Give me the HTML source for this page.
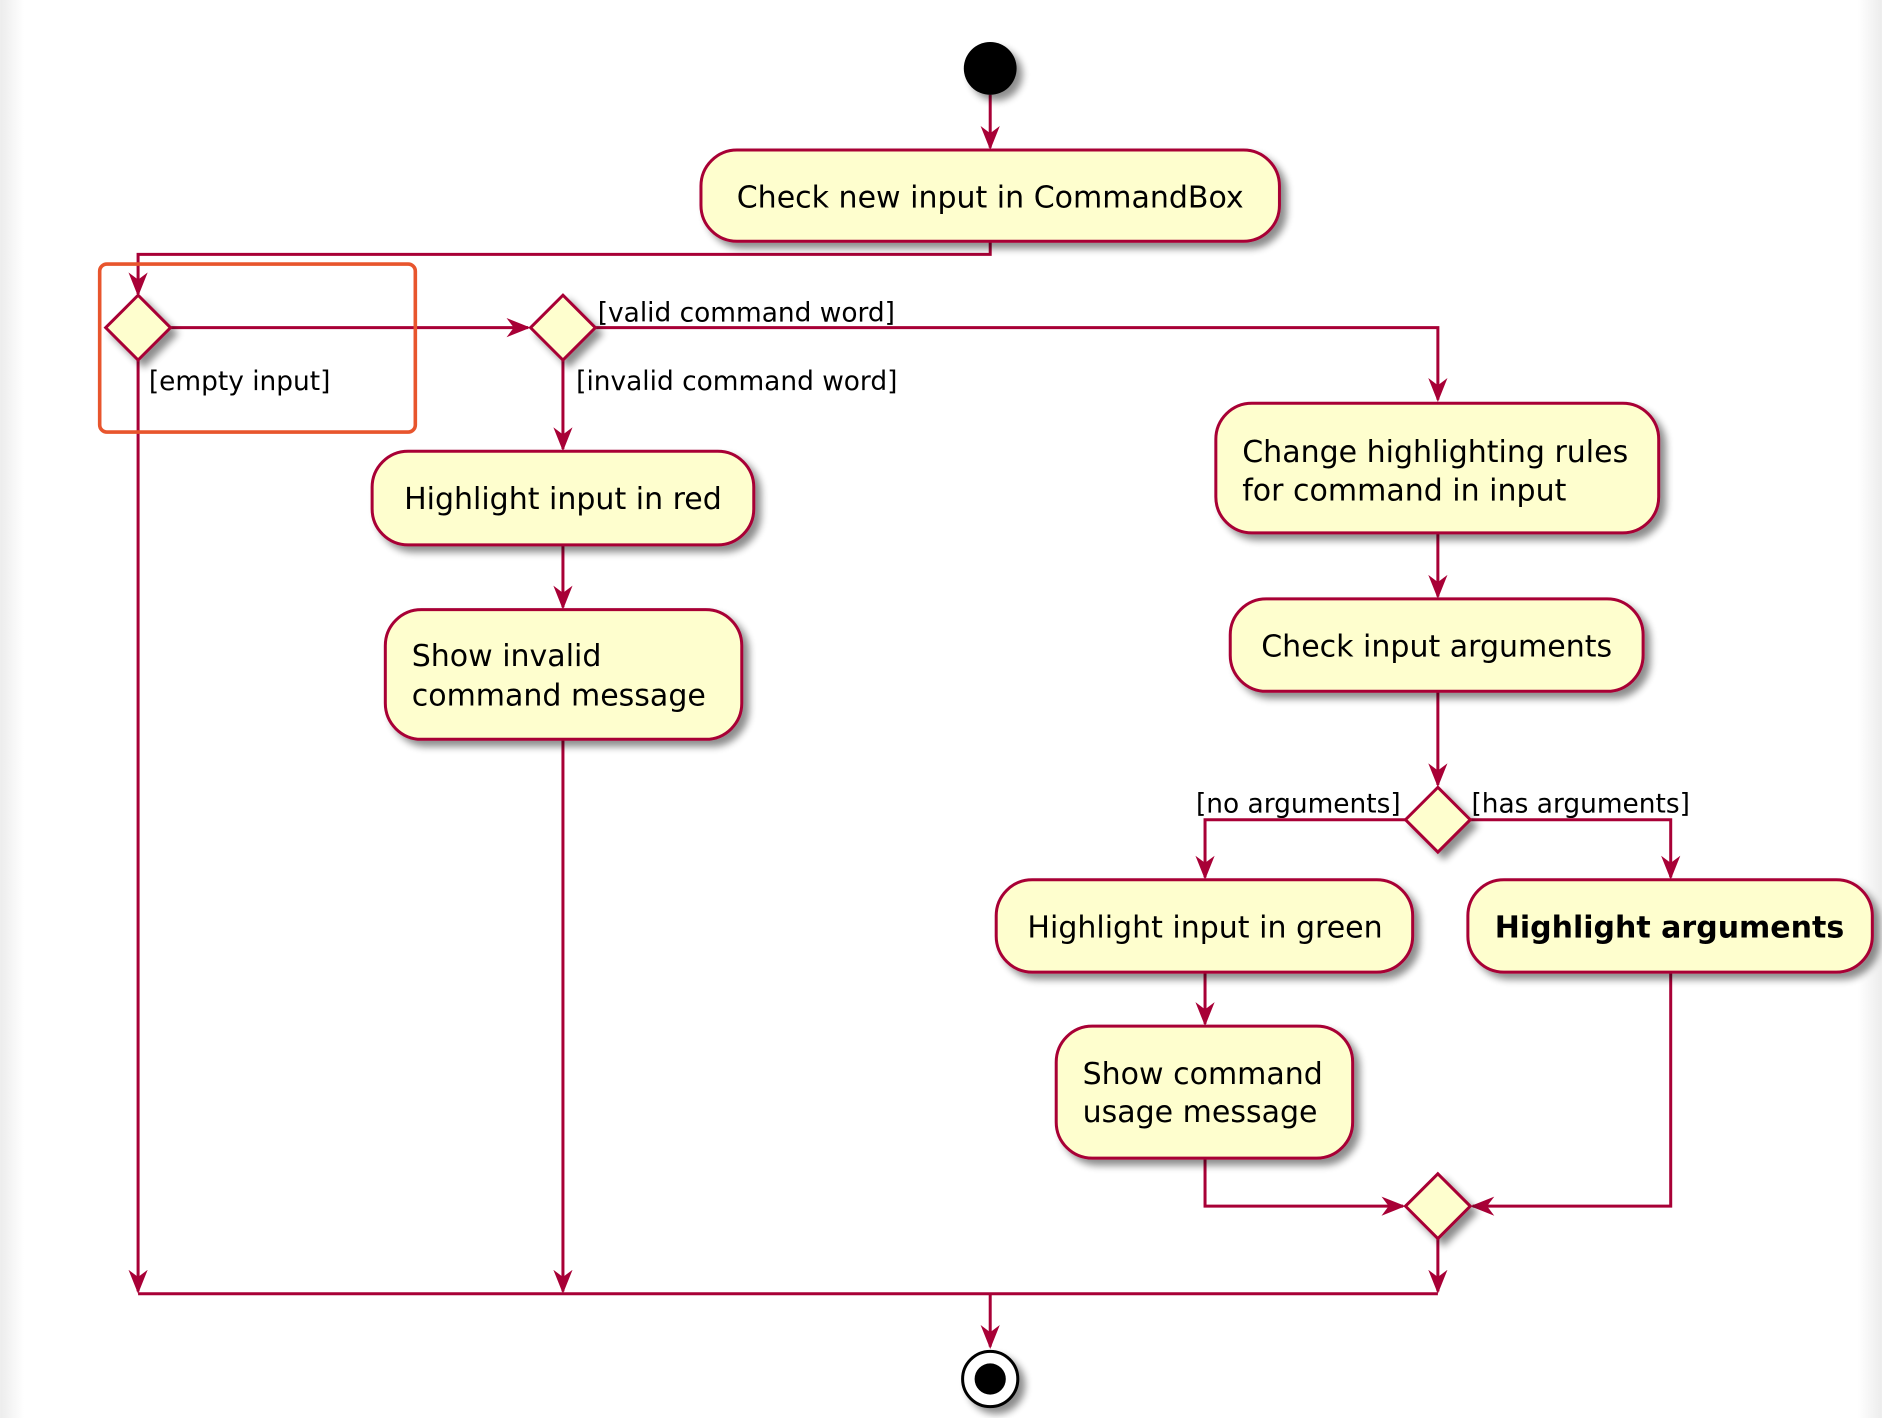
<!DOCTYPE html>
<html><head><meta charset="utf-8"><style>
html,body{margin:0;padding:0;background:#fff;}
svg{display:block;}
text{font-family:"DejaVu Sans","Liberation Sans",sans-serif;fill:#000;}
</style></head><body>
<svg width="1882" height="1418" viewBox="0 0 1568 1181.5" xmlns="http://www.w3.org/2000/svg">
<defs>
<linearGradient id="lg" x1="0" x2="1"><stop offset="0" stop-color="#ececec"/><stop offset="1" stop-color="#fff"/></linearGradient>
<linearGradient id="rg" x1="1" x2="0"><stop offset="0" stop-color="#ececec"/><stop offset="1" stop-color="#fff"/></linearGradient>
<filter id="sh" x="-20%" y="-20%" width="150%" height="150%"><feGaussianBlur in="SourceAlpha" stdDeviation="3"/><feOffset dx="5" dy="5"/><feComponentTransfer><feFuncA type="linear" slope="0.45"/></feComponentTransfer><feMerge><feMergeNode/><feMergeNode in="SourceGraphic"/></feMerge></filter>
<marker id="ar" viewBox="0 0 20 20" refX="18" refY="10" markerWidth="20" markerHeight="20" markerUnits="userSpaceOnUse" orient="auto"><path d="M0,2 L20,10 L0,18 L6,10 Z" fill="#A80036"/></marker>
</defs>
<rect x="0" y="0" width="20" height="1182" fill="url(#lg)"/>
<rect x="1548" y="0" width="20" height="1182" fill="url(#rg)"/>
<g fill="none" stroke="#A80036" stroke-width="2.5">
<path d="M825,79 V123" marker-end="url(#ar)"/>
<path d="M825,201 V212 H115 V245" marker-end="url(#ar)"/>
<path d="M142,273 H440" marker-end="url(#ar)"/>
<path d="M496,273 H1198 V333" marker-end="url(#ar)"/>
<path d="M115,300 V1076" marker-end="url(#ar)"/>
<path d="M469,300 V374" marker-end="url(#ar)"/>
<path d="M469,454 V506" marker-end="url(#ar)"/>
<path d="M469,616 V1076" marker-end="url(#ar)"/>
<path d="M1198,444 V497" marker-end="url(#ar)"/>
<path d="M1198,576 V654" marker-end="url(#ar)"/>
<path d="M1171,683 H1004 V731" marker-end="url(#ar)"/>
<path d="M1225,683 H1392 V731" marker-end="url(#ar)"/>
<path d="M1004,810 V853" marker-end="url(#ar)"/>
<path d="M1004,965 V1005 H1169" marker-end="url(#ar)"/>
<path d="M1392,810 V1005 H1227" marker-end="url(#ar)"/>
<path d="M1198,1032 V1076" marker-end="url(#ar)"/>
<path d="M115,1078 H1198"/>
<path d="M825,1078 V1122" marker-end="url(#ar)"/>
</g>
<circle cx="825" cy="57" r="22" fill="#000" filter="url(#sh)"/>
<g fill="#FEFECE" stroke="#A80036" stroke-width="2.5" filter="url(#sh)">
<rect x="584" y="125" width="482" height="76" rx="30"/>
<rect x="310" y="376" width="318" height="78" rx="30"/>
<rect x="321" y="508" width="297" height="108" rx="30"/>
<rect x="1013" y="336" width="369" height="108" rx="30"/>
<rect x="1025" y="499" width="344" height="77" rx="30"/>
<rect x="830" y="733" width="347" height="77" rx="30"/>
<rect x="1223" y="733" width="337" height="77" rx="30"/>
<rect x="880" y="855" width="247" height="110" rx="30"/>
<path d="M115,246 L142,273 L115,300 L88,273 Z"/>
<path d="M469,246 L496,273 L469,300 L442,273 Z"/>
<path d="M1198,656 L1225,683 L1198,710 L1171,683 Z"/>
<path d="M1198,978 L1225,1005 L1198,1032 L1171,1005 Z"/>
</g>
<circle cx="825" cy="1149" r="23" fill="#fff" stroke="#000" stroke-width="2.5" filter="url(#sh)"/>
<circle cx="825" cy="1149" r="13" fill="#000"/>
<g font-size="25">
<text x="825" y="173" text-anchor="middle">Check new input in CommandBox</text>
<text x="469" y="424" text-anchor="middle">Highlight input in red</text>
<text x="343" y="555">Show invalid</text>
<text x="343" y="588">command message</text>
<text x="1035" y="385">Change highlighting rules</text>
<text x="1035" y="417">for command in input</text>
<text x="1197" y="547" text-anchor="middle">Check input arguments</text>
<text x="1004" y="781" text-anchor="middle">Highlight input in green</text>
<text x="1391" y="781" text-anchor="middle" font-weight="bold">Highlight arguments</text>
<text x="902" y="903">Show command</text>
<text x="902" y="935">usage message</text>
</g>
<g font-size="22">
<text x="498" y="268">[valid command word]</text>
<text x="480" y="325">[invalid command word]</text>
<text x="124" y="325">[empty input]</text>
<text x="1167" y="677" text-anchor="end">[no arguments]</text>
<text x="1226" y="677">[has arguments]</text>
</g>
<rect x="83" y="220" width="263" height="140" rx="6" fill="none" stroke="#E8552D" stroke-width="3"/>
</svg>
</body></html>
